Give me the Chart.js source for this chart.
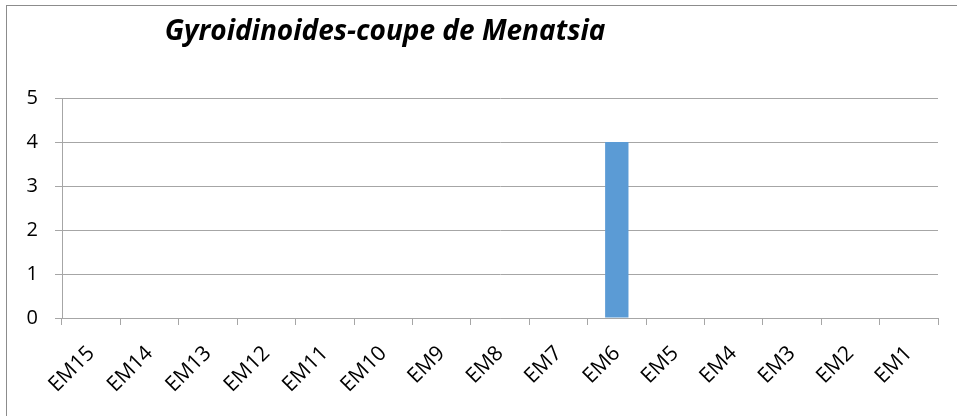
<!DOCTYPE html>
<html>
<head>
<meta charset="utf-8">
<script src="https://cdn.jsdelivr.net/npm/chart.js@4"></script>
<style>
  html, body { margin: 0; padding: 0; background: #fff; }
  #wrap { position: relative; width: 957px; height: 416px; }
</style>
</head>
<body>
<div id="wrap"><canvas id="chart" width="957" height="416"></canvas></div>
<script>
const chartTitle = "Gyroidinoides-coupe de Menatsia";
const categories = ["EM15","EM14","EM13","EM12","EM11","EM10","EM9","EM8","EM7","EM6","EM5","EM4","EM3","EM2","EM1"];
const counts = [0,0,0,0,0,0,0,0,0,4,0,0,0,0,0];
const yMin = 0;
const yMax = 5;

const axisGray = "#a6a6a6";

// frame + off-centre title like the original sheet
const framePlugin = {
    id: "frame",
    beforeDraw(chart){
        const ctx = chart.ctx;
        ctx.save();
        ctx.fillStyle = "#fff";
        ctx.fillRect(0, 0, chart.width, chart.height);
        ctx.strokeStyle = "#8c8c8c";
        ctx.lineWidth = 1;
        ctx.strokeRect(6.5, 5.5, 980, 440);
        ctx.restore();
    },
    afterDraw(chart){
        const ctx = chart.ctx;
        ctx.save();
        ctx.fillStyle = "#000";
        ctx.font = "italic bold 28px 'Open Sans'";
        ctx.textAlign = "center";
        ctx.textBaseline = "middle";
        ctx.fillText(chartTitle, 385, 32, 444);
        ctx.restore();
    }
};

new Chart(document.getElementById("chart"), {
    type: "bar",
    data: {
        labels: categories,
        datasets: [{
            data: counts,
            backgroundColor: "#5b9bd5",
            borderWidth: 0,
            categoryPercentage: 1,
            barPercentage: 0.4
        }]
    },
    options: {
        responsive: false,
        animation: false,
        layout: { padding: { left: 0, right: 19, top: 98, bottom: 0 } },
        plugins: {
            legend: { display: false },
            tooltip: { enabled: false }
        },
        scales: {
            y: {
                min: yMin,
                max: yMax,
                ticks: {
                    stepSize: 1,
                    color: "#000",
                    padding: 17,
                    font: { family: "'Open Sans'", size: 20 }
                },
                grid: { color: axisGray, tickLength: 7 },
                border: { color: axisGray },
                afterFit(scale){ scale.width = 62; }
            },
            x: {
                ticks: {
                    color: "#000",
                    minRotation: 45,
                    maxRotation: 45,
                    autoSkip: false,
                    padding: 16,
                    font: { family: "'Open Sans'", size: 21 }
                },
                grid: { drawOnChartArea: false, color: axisGray, tickLength: 7, offset: true },
                border: { color: axisGray },
                afterFit(scale){ scale.height = 98; }
            }
        }
    },
    plugins: [framePlugin]
});
</script>
</body>
</html>
